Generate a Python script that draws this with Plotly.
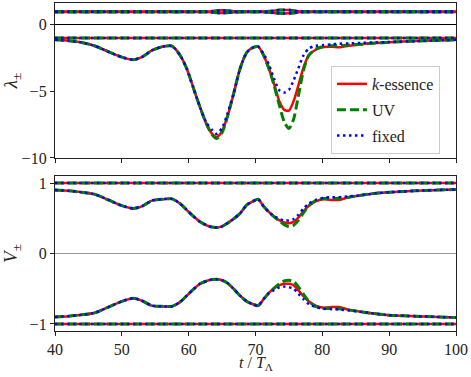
import plotly.graph_objects as go
from plotly.subplots import make_subplots

# Zeitachse
t = [40, 42, 44, 46, 48, 50, 51.7, 53, 54.5, 56, 57.5, 58.7, 59.7, 60.7, 61.7, 62.7, 63.5, 64.2, 65, 65.8,
     66.7, 67.7, 68.7, 69.6, 70.4, 71.2, 72, 72.8, 73.6, 74.3, 75, 75.7, 76.4, 77.2, 78, 79, 80.2, 81.5,
     82.5, 84, 86, 88, 90, 94, 100]
t_ends = [40, 100]

# lambda, dynamischer Zweig
lam_k = [-1.16, -1.22, -1.35, -1.62, -2.05, -2.45, -2.65, -2.45, -1.95, -1.68, -1.62, -2.3, -3.3, -4.75, -6.2,
         -7.5, -8.2, -8.42, -8.0, -6.9, -5.25, -3.3, -2.1, -1.74, -1.67, -2.3, -3.3, -4.5, -5.8, -6.4, -6.45,
         -5.75, -4.6, -3.2, -2.3, -1.9, -1.7, -1.68, -1.72, -1.6, -1.48, -1.4, -1.34, -1.25, -1.16]
lam_uv = [-1.16, -1.22, -1.35, -1.62, -2.05, -2.45, -2.65, -2.45, -1.95, -1.68, -1.62, -2.3, -3.3, -4.75, -6.2,
          -7.5, -8.25, -8.55, -8.1, -6.9, -5.25, -3.3, -2.1, -1.74, -1.67, -2.3, -3.3, -4.6, -6.1, -7.3, -7.8,
          -7.1, -5.4, -3.4, -2.3, -1.85, -1.65, -1.6, -1.6, -1.55, -1.48, -1.4, -1.34, -1.25, -1.16]
lam_fix = [-1.16, -1.22, -1.35, -1.62, -2.05, -2.45, -2.65, -2.45, -1.95, -1.68, -1.62, -2.3, -3.3, -4.75, -6.2,
           -7.4, -7.9, -8.2, -7.75, -6.7, -5.2, -3.3, -2.1, -1.74, -1.67, -2.2, -3.0, -4.1, -4.95, -5.1, -4.9,
           -4.2, -3.3, -2.3, -1.8, -1.6, -1.55, -1.5, -1.45, -1.42, -1.38, -1.35, -1.32, -1.25, -1.16]

# lambda, Zweige nahe +1
lam_hi = [0.96] * 16 + [0.98, 1.02, 1.05, 1.02, 0.98] + [0.96] * 5 + [0.98, 1.03, 1.07, 1.08, 1.07, 1.03, 0.98] + [0.96] * 12
lam_lo = [0.92] * 16 + [0.9, 0.87, 0.85, 0.87, 0.9] + [0.92] * 5 + [0.9, 0.86, 0.83, 0.82, 0.83, 0.86, 0.9] + [0.92] * 12
lam_m1 = [-1.02, -1.02]

# V, oberer Zweig
vup_k = [0.9, 0.89, 0.87, 0.84, 0.76, 0.68, 0.64, 0.67, 0.75, 0.77, 0.775, 0.71, 0.62, 0.53, 0.45, 0.4, 0.375,
         0.37, 0.385, 0.43, 0.49, 0.57, 0.69, 0.74, 0.77, 0.67, 0.59, 0.52, 0.47, 0.44, 0.43, 0.45, 0.51, 0.6,
         0.68, 0.74, 0.77, 0.76, 0.76, 0.8, 0.83, 0.855, 0.87, 0.89, 0.91]
vup_uv = [0.9, 0.89, 0.87, 0.84, 0.76, 0.68, 0.64, 0.67, 0.75, 0.77, 0.775, 0.71, 0.62, 0.53, 0.45, 0.4, 0.375,
          0.37, 0.385, 0.43, 0.49, 0.57, 0.69, 0.74, 0.77, 0.67, 0.59, 0.52, 0.46, 0.41, 0.38, 0.4, 0.47, 0.58,
          0.68, 0.75, 0.78, 0.78, 0.785, 0.8, 0.83, 0.855, 0.87, 0.89, 0.91]
vup_fix = [0.9, 0.89, 0.87, 0.84, 0.76, 0.68, 0.64, 0.67, 0.75, 0.77, 0.775, 0.71, 0.62, 0.53, 0.45, 0.4, 0.375,
           0.37, 0.385, 0.43, 0.49, 0.57, 0.69, 0.74, 0.77, 0.67, 0.59, 0.53, 0.49, 0.47, 0.47, 0.49, 0.55, 0.64,
           0.71, 0.76, 0.79, 0.8, 0.8, 0.81, 0.83, 0.855, 0.87, 0.89, 0.91]

# V, unterer Zweig
vlo_k = [-0.9, -0.89, -0.87, -0.84, -0.76, -0.68, -0.635, -0.67, -0.74, -0.75, -0.75, -0.69, -0.6, -0.51, -0.43,
         -0.39, -0.37, -0.365, -0.38, -0.42, -0.5, -0.6, -0.68, -0.72, -0.74, -0.65, -0.56, -0.49, -0.45, -0.43,
         -0.43, -0.45, -0.52, -0.61, -0.68, -0.74, -0.77, -0.76, -0.76, -0.8, -0.83, -0.855, -0.875, -0.89, -0.91]
vlo_uv = [-0.9, -0.89, -0.87, -0.84, -0.76, -0.68, -0.635, -0.67, -0.74, -0.75, -0.75, -0.69, -0.6, -0.51, -0.43,
          -0.39, -0.37, -0.365, -0.38, -0.42, -0.5, -0.6, -0.68, -0.72, -0.74, -0.65, -0.56, -0.49, -0.43, -0.39,
          -0.38, -0.4, -0.47, -0.58, -0.68, -0.75, -0.78, -0.78, -0.785, -0.8, -0.83, -0.855, -0.875, -0.89, -0.91]
vlo_fix = [-0.9, -0.89, -0.87, -0.84, -0.76, -0.68, -0.635, -0.67, -0.74, -0.75, -0.75, -0.69, -0.6, -0.51, -0.43,
           -0.39, -0.37, -0.365, -0.38, -0.42, -0.5, -0.6, -0.68, -0.72, -0.74, -0.65, -0.56, -0.52, -0.48, -0.47,
           -0.48, -0.5, -0.57, -0.65, -0.72, -0.76, -0.785, -0.79, -0.795, -0.81, -0.83, -0.855, -0.875, -0.89, -0.91]
v_p1 = [1.0, 1.0]
v_m1 = [-1.0, -1.0]

models = ["<i>k</i>-essence", "UV", "fixed"]
styles = {
    "<i>k</i>-essence": dict(color="red", width=2.5, dash="solid"),
    "UV": dict(color="green", width=3, dash="9px,4px"),
    "fixed": dict(color="blue", width=2.5, dash="2.5px,3.5px"),
}

lam_dyn = {models[0]: lam_k, models[1]: lam_uv, models[2]: lam_fix}
v_up = {models[0]: vup_k, models[1]: vup_uv, models[2]: vup_fix}
v_lo = {models[0]: vlo_k, models[1]: vlo_uv, models[2]: vlo_fix}

fig = make_subplots(rows=2, cols=1, shared_xaxes=True, vertical_spacing=0.055)

for m in models:
    st = styles[m]
    kurven_oben = [(t, lam_hi), (t, lam_lo), (t_ends, lam_m1), (t, lam_dyn[m])]
    kurven_unten = [(t_ends, v_p1), (t_ends, v_m1), (t, v_up[m]), (t, v_lo[m])]
    for i, (x, y) in enumerate(kurven_oben):
        fig.add_trace(go.Scatter(x=x, y=y, mode="lines", name=m, legendgroup=m, showlegend=(i == 0),
                                 line=dict(shape="spline", smoothing=0.7, **st)), row=1, col=1)
    for x, y in kurven_unten:
        fig.add_trace(go.Scatter(x=x, y=y, mode="lines", name=m, legendgroup=m, showlegend=False,
                                 line=dict(shape="spline", smoothing=0.7, **st)), row=2, col=1)

achse = dict(showline=True, linecolor="#222", linewidth=1.3, mirror=True, ticks="outside", ticklen=4,
             tickcolor="#222", showgrid=False, automargin=False)

fig.update_xaxes(range=[40, 100], tickvals=[40, 50, 60, 70, 80, 90, 100], **achse)
fig.update_xaxes(showticklabels=False, row=1, col=1)

fig.update_yaxes(range=[-10, 1.6], tickvals=[0, -5, -10], zeroline=True, zerolinecolor="black",
                 zerolinewidth=1, title_text="<i>λ</i><sub>±</sub>", title_standoff=6, row=1, col=1, **achse)
fig.update_yaxes(range=[-1.1, 1.1], tickvals=[-1, 0, 1], zeroline=True, zerolinecolor="#999",
                 zerolinewidth=1.3, title_text="<i>V</i><sub>±</sub>", title_standoff=6, row=2, col=1, **achse)

# x-Achsentitel als Annotation, damit er tiefer sitzt
fig.add_annotation(text="<i>t</i> / <i>T</i><sub>Λ</sub>", xref="paper", yref="paper", x=0.5, y=-0.098,
                   xanchor="center", yanchor="middle", showarrow=False, font=dict(size=16))

fig.update_layout(
    width=471, height=377,
    margin=dict(l=55, r=15, t=3, b=46),
    plot_bgcolor="white", paper_bgcolor="white",
    font=dict(family="Liberation Serif, Times New Roman, serif", size=16, color="#222"),
    legend=dict(x=0.96, y=0.808, xanchor="right", yanchor="top", bgcolor="rgba(255,255,255,0.9)",
                bordercolor="#ccc", borderwidth=1, font=dict(size=16), tracegroupgap=2),
)

# Seitenrand des Browsers entfernen, keine Modebar
fig.write_html("out.html", config={"displayModeBar": False},
               post_script="document.body.style.margin='0';")
